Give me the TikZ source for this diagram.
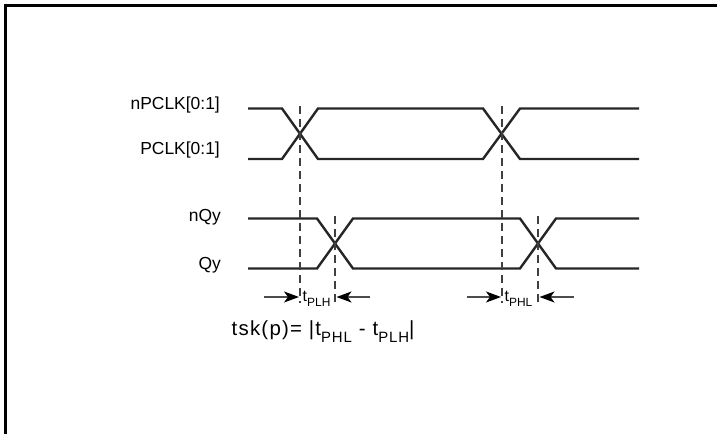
\documentclass[tikz,border=0pt]{standalone}
\usepackage{fontspec}
\setmainfont{Liberation Sans}
\usetikzlibrary{arrows.meta}

\tikzset{
  wave/.style={line width=2.4bp, black!85, line join=miter},
  guide/.style={line width=1.2bp, black!75, dash pattern=on 8bp off 5bp},
  meas/.style={line width=1.3bp, black!70, arrows={-Stealth[length=15bp,width=11bp,inset=4bp,black]}},
  siglabel/.style={anchor=base east, inner sep=0pt, font=\fontsize{17.5}{17.5}\selectfont},
}
\newcommand{\tdel}[1]{{\fontsize{16}{16}\selectfont t}\raisebox{-5bp}{\fontsize{12}{12}\selectfont #1}}
\newcommand{\tsub}[1]{t\raisebox{-7bp}{\fontsize{15}{15}\selectfont #1}}

\begin{document}
\begin{tikzpicture}[x=1bp,y=-1bp]
		\useasboundingbox (0,0) rectangle (717,434);
		\draw [line width=3bp] (5.5,434) -- (5.5,6) -- (717,6); % frame
		% signal names
		\node [siglabel] (npclk) at (220,110) {nPCLK[0:1]};
		\node [siglabel] (pclk) at (220,155) {PCLK[0:1]};
		\node [siglabel] (nqy) at (221,221.5) {nQy};
		\node [siglabel] (qy) at (221,270) {Qy};
		% waveforms
		\draw [wave] (248,108.5) -- (282,108.5) -- (318,159) -- (483,159) -- (520,108.5) -- (639,108.5); % nPCLK
		\draw [wave] (248,159) -- (282,159) -- (318,108.5) -- (483,108.5) -- (520,159) -- (639,159); % PCLK
		\draw [wave] (248,218.5) -- (317,218.5) -- (353,268.5) -- (520,268.5) -- (556,218.5) -- (639,218.5); % nQy
		\draw [wave] (248,268.5) -- (317,268.5) -- (353,218.5) -- (520,218.5) -- (556,268.5) -- (639,268.5); % Qy
		% guide lines through the crossings
		\coordinate (g1t) at (300,106); \coordinate (g1b) at (300,303);
		\coordinate (g2t) at (335,216); \coordinate (g2b) at (335,303);
		\coordinate (g3t) at (502,106); \coordinate (g3b) at (502,303);
		\coordinate (g4t) at (538,216); \coordinate (g4b) at (538,303);
		\draw [guide] (g1t) -- (g1b);
		\draw [guide] (g2t) -- (g2b);
		\draw [guide] (g3t) -- (g3b);
		\draw [guide] (g4t) -- (g4b);
		% delay arrows
		\coordinate (a1) at (264,297); \coordinate (b1) at (299,297);
		\coordinate (a2) at (370,297); \coordinate (b2) at (336.5,297);
		\coordinate (a3) at (467,297); \coordinate (b3) at (501,297);
		\coordinate (a4) at (574,297); \coordinate (b4) at (539.5,297);
		\draw [meas] (a1) -- (b1);
		\draw [meas] (a2) -- (b2);
		\draw [meas] (a3) -- (b3);
		\draw [meas] (a4) -- (b4);
		\node [anchor=base west, inner sep=0pt] (tplh) at (302.5,301.5) {\tdel{PLH}};
		\node [anchor=base west, inner sep=0pt] (tphl) at (504.5,301.5) {\tdel{PHL}};
		% skew formula
		\node [anchor=base west, inner sep=0pt, font=\fontsize{20.5}{20.5}\selectfont\addfontfeature{LetterSpace=6}] (tsk) at (231.5,336) {tsk(p)= |\tsub{PHL} - \tsub{PLH}|};
\end{tikzpicture}
\end{document}
